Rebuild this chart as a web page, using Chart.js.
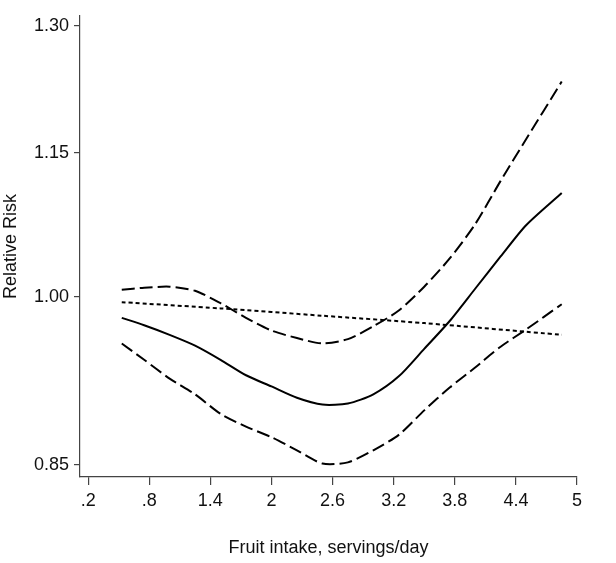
<!DOCTYPE html>
<html>
<head>
<meta charset="utf-8">
<script src="https://cdn.jsdelivr.net/npm/chart.js@4/dist/chart.umd.min.js"></script>
<style>
  html, body { margin: 0; padding: 0; background: #fff; }
  #wrap { width: 616px; height: 563px; }
</style>
</head>
<body>
<div id="wrap"><canvas id="rr-chart"></canvas></div>
<script>
const intake = [0.53, 0.75, 1.0, 1.25, 1.5, 1.75, 2.0, 2.25, 2.5, 2.75, 3.0, 3.25, 3.5, 3.75, 4.0, 4.25, 4.5, 4.85];
const rrSpline = [0.980, 0.973, 0.964, 0.954, 0.941, 0.927, 0.917, 0.907, 0.901, 0.902, 0.910, 0.926, 0.951, 0.977, 1.008, 1.040, 1.072, 1.106];
const upperCI = [1.007, 1.009, 1.010, 1.006, 0.994, 0.980, 0.968, 0.961, 0.956, 0.960, 0.972, 0.987, 1.010, 1.038, 1.073, 1.119, 1.165, 1.232];
const lowerCI = [0.956, 0.941, 0.924, 0.910, 0.893, 0.882, 0.873, 0.862, 0.851, 0.852, 0.862, 0.875, 0.896, 0.916, 0.934, 0.953, 0.969, 0.993];
const linearX = [0.53, 1.5, 2.5, 3.5, 4.85];
const linearRR = [0.995, 0.989, 0.982, 0.975, 0.964];
const xTicks = [0.2, 0.8, 1.4, 2, 2.6, 3.2, 3.8, 4.4, 5];
const xTickLabels = ['.2', '.8', '1.4', '2', '2.6', '3.2', '3.8', '4.4', '5'];
const yTicks = [0.85, 1.00, 1.15, 1.30];

const pts = (xs, ys) => xs.map((x, i) => ({ x: x, y: ys[i] }));
const FONT = '"Liberation Sans", Arial, sans-serif';

new Chart(document.getElementById('rr-chart'), {
  type: 'line',
  data: {
    datasets: [
      { data: pts(intake, upperCI), borderColor: '#000', borderWidth: 2, borderDash: [13, 5], tension: 0.25 },
      { data: pts(intake, rrSpline), borderColor: '#000', borderWidth: 2, tension: 0.25 },
      { data: pts(intake, lowerCI), borderColor: '#000', borderWidth: 2, borderDash: [13, 5], tension: 0.25 },
      { data: pts(linearX, linearRR), borderColor: '#000', borderWidth: 2, borderDash: [4, 3], tension: 0.25 }
    ]
  },
  options: {
    responsive: true,
    maintainAspectRatio: false,
    animation: false,
    layout: { padding: { top: 5, right: 39, left: 0, bottom: 0 } },
    elements: { point: { radius: 0 } },
    plugins: { legend: { display: false }, tooltip: { enabled: false } },
    scales: {
      x: {
        type: 'linear',
        min: 0.12,
        max: 5,
        afterBuildTicks: s => { s.ticks = xTicks.map(v => ({ value: v })); },
        afterFit: s => { s.height = 86; },
        grid: { drawOnChartArea: false, tickLength: 8, color: '#444', lineWidth: 1.2 },
        border: { color: '#444', width: 1.2 },
        ticks: {
          color: '#111',
          font: { family: FONT, size: 18 },
          padding: 5,
          maxRotation: 0,
          callback: (v) => xTickLabels[xTicks.indexOf(v)]
        },
        title: { display: true, text: 'Fruit intake, servings/day', color: '#111', font: { family: FONT, size: 18 }, padding: { top: 0, bottom: 4 } }
      },
      y: {
        type: 'logarithmic',
        min: 0.8415,
        max: 1.313,
        afterBuildTicks: s => { s.ticks = yTicks.map(v => ({ value: v })); },
        afterFit: s => { s.width = 80; },
        grid: { drawOnChartArea: false, tickLength: 6, color: '#444', lineWidth: 1.2 },
        border: { color: '#444', width: 1.2 },
        ticks: {
          color: '#111',
          font: { family: FONT, size: 18 },
          padding: 5,
          callback: (v) => Number(v).toFixed(2)
        },
        title: { display: true, text: 'Relative Risk', color: '#111', font: { family: FONT, size: 18 }, padding: { top: 0, bottom: 0 } }
      }
    }
  }
});
</script>
</body>
</html>
